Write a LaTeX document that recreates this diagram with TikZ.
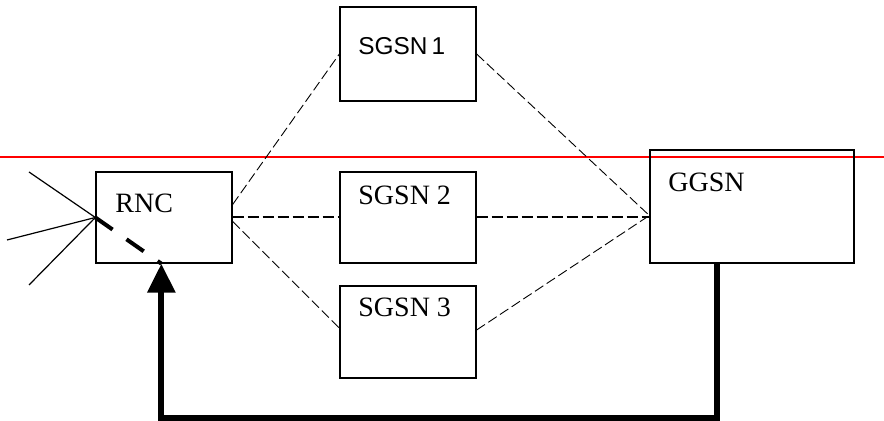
\documentclass[tikz,border=0pt]{standalone}
\usepackage{fontspec}
\setmainfont{Liberation Serif}
\newfontfamily\arialfont{Liberation Sans}
\usepackage{tikz}
\usetikzlibrary{calc,arrows.meta}

\begin{document}
\begin{tikzpicture}[x=0.5pt,y=-0.5pt,
  box/.style={draw,line width=0.65pt,inner sep=0pt},
  lbl/.style={anchor=base west,inner sep=0pt,font=\fontsize{14}{16}\selectfont},
  thinlink/.style={line width=0.45pt,dash pattern=on 5pt off 2pt},
  midlink/.style={line width=1pt,dash pattern=on 5.5pt off 2pt},
  thickdash/.style={line width=2pt,dash pattern=on 10.5pt off 8.5pt},
  feedback/.style={line width=3pt,miter limit=10,-{Triangle[width=13.5pt,length=14.5pt]}}]
\useasboundingbox (0,0) rectangle (884,421);
\draw[red,line width=0.6pt](0,157)--(884,157);
\node[box,minimum width=68pt,minimum height=45.5pt] (rnc) at (164,217.5) {};
\node[box,minimum width=68pt,minimum height=47pt] (sgsn1) at (408,54) {};
\node[box,minimum width=68pt,minimum height=45.5pt] (sgsn2) at (408,217.5) {};
\node[box,minimum width=68pt,minimum height=46pt] (sgsn3) at (408,332) {};
\node[box,minimum width=102pt,minimum height=56.5pt] (ggsn) at (752,206.5) {};
\node[lbl] (rnctxt) at (115,213) {RNC};
\node[lbl,font=\arialfont\fontsize{12.2}{14}\selectfont] (sgsn1txt) at (358,55) {SGSN\,1};
\node[lbl] (sgsn2txt) at (358,205) {SGSN 2};
\node[lbl] (sgsn3txt) at (358,317) {SGSN 3};
\node[lbl] (ggsntxt) at (668,192) {GGSN};
% antenna lines
\coordinate (ant1) at (29,172);
\coordinate (ant2) at (7,240);
\coordinate (ant3) at (29,285);
\draw[line width=0.6pt](rnc.west)--(ant1);
\draw[line width=0.6pt](rnc.west)--(ant2);
\draw[line width=0.6pt](rnc.west)--(ant3);
% links
\draw[thinlink]($(rnc.east)+(0,-13)$)--(sgsn1.west);
\draw[midlink](rnc.east)--(sgsn2.west);
\draw[thinlink]($(rnc.east)+(0,4)$)--($(sgsn3.west)+(0,-4)$);
\draw[thinlink](sgsn1.east)--($(ggsn.west)+(0,9)$);
\draw[midlink](sgsn2.east)--(sgsn2.east -| ggsn.west);
\draw[thinlink]($(sgsn3.east)+(0,-2)$)--($(ggsn.west)+(0,9)$);
% feedback path
\coordinate (tip) at ($(rnc.south west)+(66,0)$);
\draw[thickdash](rnc.west)--(tip);
\draw[feedback]($(ggsn.south)+(-35,0)$)--++(0,154)-|(tip);
\end{tikzpicture}
\end{document}
